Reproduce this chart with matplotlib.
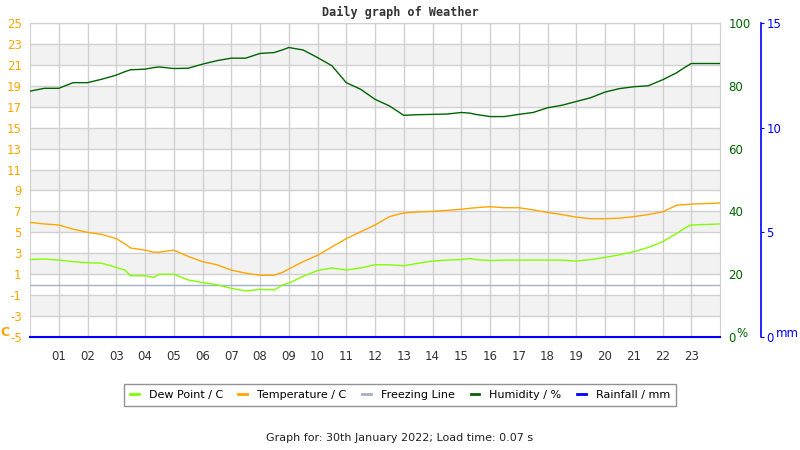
import numpy as np
import matplotlib
matplotlib.use("Agg")
import matplotlib.pyplot as plt
from matplotlib.lines import Line2D

matplotlib.rcParams['font.family'] = 'DejaVu Sans'
matplotlib.rcParams['axes.unicode_minus'] = False

# ── data (hours of the day) ────────────────────────────────────────────────
hours = [0, 0.5, 1, 1.5, 2, 2.5, 3, 3.3, 3.5, 4, 4.3, 4.5, 5, 5.5, 6, 6.5, 7, 7.5,
         8, 8.5, 8.8, 9, 9.5, 10, 10.5, 11, 11.5, 12, 12.5, 13, 13.5, 14, 14.5,
         15, 15.3, 15.5, 16, 16.5, 17, 17.5, 18, 18.5, 19, 19.5, 20, 20.5, 21,
         21.5, 22, 22.5, 22.8, 23, 24]

temperature = [5.95, 5.8, 5.7, 5.3, 5.0, 4.8, 4.4, 3.9, 3.5, 3.3, 3.1, 3.1, 3.3, 2.7,
               2.2, 1.9, 1.4, 1.1, 0.9, 0.9, 1.2, 1.5, 2.2, 2.8, 3.6, 4.4, 5.05, 5.7,
               6.5, 6.85, 6.95, 7.0, 7.1, 7.2, 7.3, 7.35, 7.45, 7.35, 7.35, 7.15,
               6.9, 6.7, 6.45, 6.3, 6.3, 6.35, 6.5, 6.7, 6.95, 7.6, 7.65, 7.7, 7.8]

dew_point = [2.4, 2.45, 2.35, 2.2, 2.1, 2.05, 1.65, 1.4, 0.85, 0.85, 0.7, 1.0, 1.0, 0.45,
             0.2, 0.0, -0.35, -0.6, -0.45, -0.5, 0.0, 0.15, 0.8, 1.35, 1.6, 1.4, 1.6,
             1.9, 1.9, 1.8, 2.05, 2.25, 2.35, 2.4, 2.5, 2.4, 2.3, 2.35, 2.35, 2.35,
             2.35, 2.35, 2.25, 2.4, 2.6, 2.85, 3.15, 3.55, 4.1, 4.9, 5.45, 5.7, 5.8]

humidity = [78.3, 79.2, 79.2, 81.0, 81.0, 82.1, 83.4, 84.5, 85.1, 85.3, 85.8, 86.0, 85.5,
            85.6, 86.9, 88.0, 88.8, 88.8, 90.3, 90.6, 91.5, 92.2, 91.4, 89.0, 86.4,
            81.0, 78.9, 75.7, 73.6, 70.6, 70.8, 70.9, 71.0, 71.5, 71.3, 70.9, 70.2,
            70.2, 70.9, 71.5, 73.0, 73.8, 75.0, 76.2, 78.0, 79.1, 79.7, 80.0, 81.9,
            84.2, 86.0, 87.1, 87.1]

rainfall = [0.0] * len(hours)

hour_ticks = list(range(1, 24))
hour_labels = [f"{h:02d}" for h in hour_ticks]
temp_ticks = list(range(-5, 26, 2))
hum_ticks = [0, 20, 40, 60, 80, 100]
rain_ticks = [0, 5, 10, 15]
freezing = 0

C_TEMP = "#ffa500"
C_DEW = "#80ff00"
C_HUM = "#006400"
C_RAIN = "#0000ff"
C_FREEZE = "#a4b0c8"

# ── figure ────────────────────────────────────────────────────────────────
fig = plt.figure(figsize=(8, 4.5), dpi=100)
ax = fig.add_axes([30 / 800, 113 / 450, 690 / 800, 314 / 450])

ax.set_xlim(0, 24)
ax.set_ylim(-5, 25)

# alternating bands
for lo in range(-5, 25, 2):
    if ((lo + 5) // 2) % 2 == 1:
        ax.axhspan(lo, lo + 2, color="#f2f2f2", zorder=0, lw=0)

ax.set_yticks(temp_ticks)
ax.set_xticks(hour_ticks)
ax.set_xticklabels(hour_labels)
ax.grid(True, color="#d0d0d0", linewidth=1, zorder=1)
ax.set_axisbelow(True)
ax.tick_params(axis="y", colors=C_TEMP, labelsize=8.5, length=0, pad=6)
ax.tick_params(axis="x", colors="#333333", labelsize=8.5, length=0, pad=9)
for s in ax.spines.values():
    s.set_color("#d0d0d0")
ax.spines["bottom"].set_color("#333333")

ax.axhline(freezing, color=C_FREEZE, linewidth=1, zorder=3)
ax.plot(hours, temperature, color=C_TEMP, linewidth=1, zorder=4)
ax.plot(hours, dew_point, color=C_DEW, linewidth=1, zorder=4)
ax.text(-0.036, 0.014, "C", transform=ax.transAxes, color=C_TEMP,
        fontsize=9, fontweight="bold", ha="center", va="center")

# humidity axis
axh = ax.twinx()
axh.set_ylim(0, 100)
axh.set_yticks(hum_ticks)
axh.tick_params(axis="y", colors=C_HUM, labelsize=8.5, length=0, pad=6)
for s in axh.spines.values():
    s.set_visible(False)
axh.plot(hours, humidity, color=C_HUM, linewidth=1, zorder=4)
axh.text(1.024, 0.012, "%", transform=axh.transAxes, color=C_HUM,
         fontsize=8.5, ha="left", va="center")

# rainfall axis
axr = ax.twinx()
axr.set_ylim(0, 15)
axr.set_yticks(rain_ticks)
for s in ["top", "left", "bottom"]:
    axr.spines[s].set_visible(False)
axr.spines["right"].set_position(("axes", 1.059))
axr.spines["right"].set_color(C_RAIN)
axr.spines["right"].set_linewidth(1.2)
axr.tick_params(axis="y", colors=C_RAIN, labelsize=8.5, length=2, pad=2)
axr.plot(hours, rainfall, color=C_RAIN, linewidth=1.5, zorder=5, clip_on=False)
axr.text(1.081, 0.01, "mm", transform=axr.transAxes, color=C_RAIN,
         fontsize=8.5, ha="left", va="center")

# title / legend / footer
fig.text(0.5, 0.972, "Daily graph of Weather", ha="center", va="center",
         family="DejaVu Sans Mono", fontweight="bold", fontsize=8.5, color="#333333")

handles = [Line2D([], [], color=c, linewidth=2) for c in [C_DEW, C_TEMP, C_FREEZE, C_HUM, C_RAIN]]
labels = ["Dew Point / C", "Temperature / C", "Freezing Line", "Humidity / %", "Rainfall / mm"]
leg = fig.legend(handles, labels, loc="center", bbox_to_anchor=(0.5, 1 - 395 / 450),
                 ncol=5, fontsize=8, frameon=True, fancybox=False, handlelength=0.8,
                 handletextpad=0.9, columnspacing=1.4, borderpad=0.5)
leg.get_frame().set_edgecolor("#777777")
leg.get_frame().set_linewidth(1)

fig.text(0.5, 1 - 438 / 450, "Graph for: 30th January 2022; Load time: 0.07 s",
         ha="center", va="center", fontsize=8, color="#222222")

plt.savefig("out.png", dpi=100)
plt.close()
